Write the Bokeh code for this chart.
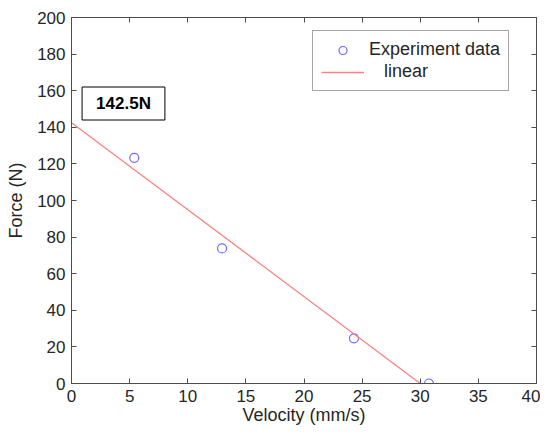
from bokeh.plotting import figure
from bokeh.models import LinearAxis, Label, Legend, LegendItem, Range1d, FixedTicker
from bokeh.embed import file_html
from bokeh.resources import INLINE

velocity = [5.4, 12.95, 24.3, 30.75]
force = [123.3, 73.8, 24.7, 0.0]
fit_velocity = [0.0, 30.0]
fit_force = [142.5, 0.0]
x_ticks = [0, 5, 10, 15, 20, 25, 30, 35, 40]
y_ticks = [0, 20, 40, 60, 80, 100, 120, 140, 160, 180, 200]
intercept_label = "142.5N"

FONT = "Liberation Sans"
AX = "#4d4d4d"
TXT = "#262626"

p = figure(width=540, height=430, output_backend="svg", toolbar_location=None,
           x_range=Range1d(0, 40), y_range=Range1d(0, 200),
           min_border_left=71, min_border_right=4, min_border_top=17, min_border_bottom=47)
p.xaxis.visible = False
p.yaxis.visible = False
p.xgrid.visible = False
p.ygrid.visible = False
p.outline_line_color = AX
p.background_fill_color = "white"

def style(ax, labels=True):
    ax.axis_line_color = AX
    ax.major_tick_line_color = AX
    ax.major_tick_in = 5
    ax.major_tick_out = 0
    ax.minor_tick_line_color = None
    ax.major_label_text_font = FONT
    ax.major_label_text_font_size = "17px"
    ax.major_label_text_color = TXT
    ax.axis_label_text_font = FONT
    ax.axis_label_text_font_size = "18px"
    ax.axis_label_text_font_style = "normal"
    ax.axis_label_text_color = TXT
    if not labels:
        ax.major_label_overrides = {t: "" for t in ax.ticker.ticks}
        ax.major_label_standoff = 0

bx = LinearAxis(ticker=FixedTicker(ticks=x_ticks), axis_label="Velocity (mm/s)")
style(bx); bx.major_label_standoff = 6; bx.axis_label_standoff = 0
ly = LinearAxis(ticker=FixedTicker(ticks=y_ticks), axis_label="Force (N)")
style(ly); ly.major_label_standoff = 6; ly.axis_label_standoff = 8
tx = LinearAxis(ticker=FixedTicker(ticks=x_ticks))
style(tx, False)
ry = LinearAxis(ticker=FixedTicker(ticks=y_ticks))
style(ry, False)
p.add_layout(bx, "below")
p.add_layout(ly, "left")
p.add_layout(tx, "above")
p.add_layout(ry, "right")

r_pts = p.scatter(velocity, force, marker="circle", size=9, fill_color=None,
                  line_color="#6b6bff", line_width=1.2)
r_fit = p.line(fit_velocity, fit_force, line_color="#ff7f7f", line_width=1.3)

legend = Legend(items=[LegendItem(label="Experiment data", renderers=[r_pts]),
                       LegendItem(label="\u00a0\u00a0\u00a0linear", renderers=[r_fit])],
                location=(241, 292))
legend.border_line_color = AX
legend.border_line_width = 1
legend.background_fill_color = "white"
legend.label_text_font = FONT
legend.label_text_font_size = "18px"
legend.label_text_color = TXT
legend.glyph_width = 43
legend.glyph_height = 20
legend.label_height = 20
legend.label_standoff = 5
legend.spacing = 1
legend.padding = 8
legend.margin = 0
p.add_layout(legend, "center")

lab = Label(x=52, y=280, x_units="screen", y_units="screen", text=intercept_label,
            text_font=FONT, text_font_style="bold", text_font_size="17px",
            text_color="black", text_align="center", text_baseline="middle",
            border_line_color="black", border_line_width=1,
            background_fill_color="white", padding=(14, 7))
p.add_layout(lab)

open("out.html", "w").write(file_html(p, INLINE))
